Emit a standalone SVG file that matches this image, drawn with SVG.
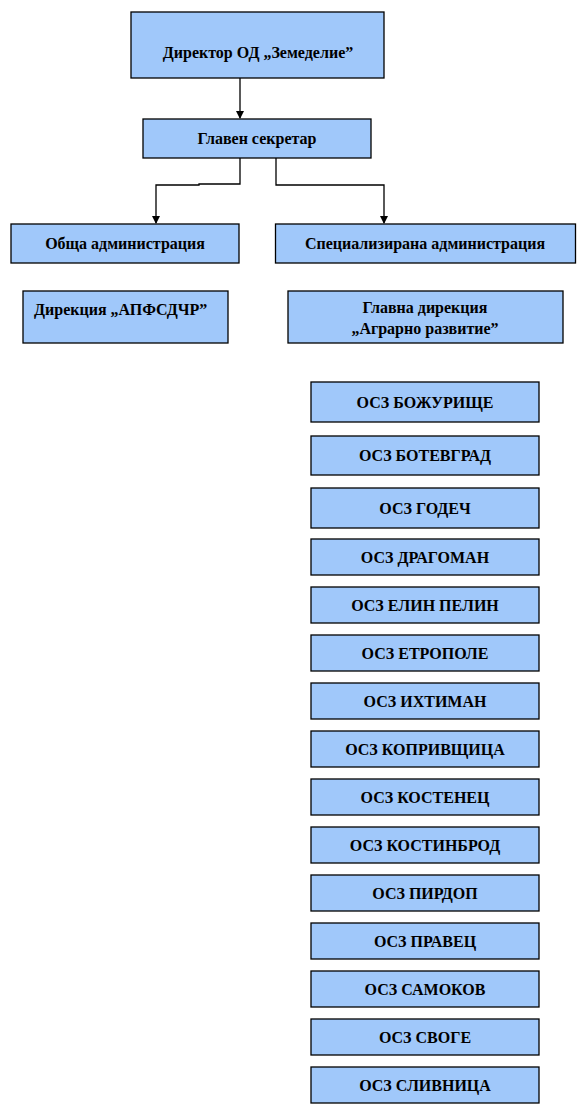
<svg xmlns="http://www.w3.org/2000/svg" width="579" height="1116" viewBox="0 0 579 1116">
<style>
.b{fill:#a0c8fa;stroke:#000;stroke-width:1.3}
.t{font-family:"Liberation Serif","Times New Roman",serif;font-weight:bold;font-size:16px;fill:#000;text-anchor:middle;dominant-baseline:central}
.c{fill:none;stroke:#000;stroke-width:1.3}
</style>
<rect width="579" height="1116" fill="#fff"/>
<g id="connectors">
<path class="c" d="M240,78 V118"/>
<path d="M236,111 L244,111 L240,119 Z"/>
<path class="c" d="M240,158 V184 H199 V185 H156 V223"/>
<path d="M152,216 L160,216 L156,224 Z"/>
<path class="c" d="M276,158 V185 H384 V223"/>
<path d="M380,216 L388,216 L384,224 Z"/>
</g>
<g id="director"><rect class="b" x="131" y="12" width="253" height="66"/><text class="t" x="258" y="52">Директор ОД „Земеделие”</text></g>
<g id="secretary"><rect class="b" x="143" y="119" width="228" height="39"/><text class="t" x="257" y="138">Главен секретар</text></g>
<g id="obshta"><rect class="b" x="11" y="224" width="228" height="39"/><text class="t" x="125" y="243">Обща администрация</text></g>
<g id="spec"><rect class="b" x="275.5" y="224" width="300" height="39"/><text class="t" x="425" y="243">Специализирана администрация</text></g>
<g id="apfsdchr"><rect class="b" x="23" y="291" width="205" height="52"/><text class="t" x="34" y="309" style="text-anchor:start">Дирекция „АПФСДЧР”</text></g>
<g id="gdar"><rect class="b" x="288" y="291" width="275" height="52"/><text class="t" x="425" y="307">Главна дирекция</text><text class="t" x="425" y="328">„Аграрно развитие”</text></g>
<g id="osz1"><rect class="b" x="311" y="382" width="228" height="40"/><text class="t" x="425" y="402">ОСЗ БОЖУРИЩЕ</text></g>
<g id="osz2"><rect class="b" x="311" y="436" width="228" height="39"/><text class="t" x="425" y="455">ОСЗ БОТЕВГРАД</text></g>
<g id="osz3"><rect class="b" x="311" y="488" width="228" height="40"/><text class="t" x="425" y="508">ОСЗ ГОДЕЧ</text></g>
<g id="osz4"><rect class="b" x="311" y="539" width="228" height="36"/><text class="t" x="425" y="557">ОСЗ ДРАГОМАН</text></g>
<g id="osz5"><rect class="b" x="311" y="587" width="228" height="36"/><text class="t" x="425" y="605">ОСЗ ЕЛИН ПЕЛИН</text></g>
<g id="osz6"><rect class="b" x="311" y="635" width="228" height="36"/><text class="t" x="425" y="653">ОСЗ ЕТРОПОЛЕ</text></g>
<g id="osz7"><rect class="b" x="311" y="683" width="228" height="36"/><text class="t" x="425" y="701">ОСЗ ИХТИМАН</text></g>
<g id="osz8"><rect class="b" x="311" y="731" width="228" height="36"/><text class="t" x="425" y="749">ОСЗ КОПРИВЩИЦА</text></g>
<g id="osz9"><rect class="b" x="311" y="779" width="228" height="36"/><text class="t" x="425" y="797">ОСЗ КОСТЕНЕЦ</text></g>
<g id="osz10"><rect class="b" x="311" y="827" width="228" height="36"/><text class="t" x="425" y="845">ОСЗ КОСТИНБРОД</text></g>
<g id="osz11"><rect class="b" x="311" y="875" width="228" height="36"/><text class="t" x="425" y="893">ОСЗ ПИРДОП</text></g>
<g id="osz12"><rect class="b" x="311" y="923" width="228" height="36"/><text class="t" x="425" y="941">ОСЗ ПРАВЕЦ</text></g>
<g id="osz13"><rect class="b" x="311" y="971" width="228" height="36"/><text class="t" x="425" y="989">ОСЗ САМОКОВ</text></g>
<g id="osz14"><rect class="b" x="311" y="1019" width="228" height="36"/><text class="t" x="425" y="1037">ОСЗ СВОГЕ</text></g>
<g id="osz15"><rect class="b" x="311" y="1067" width="228" height="36"/><text class="t" x="425" y="1085">ОСЗ СЛИВНИЦА</text></g>
</svg>
